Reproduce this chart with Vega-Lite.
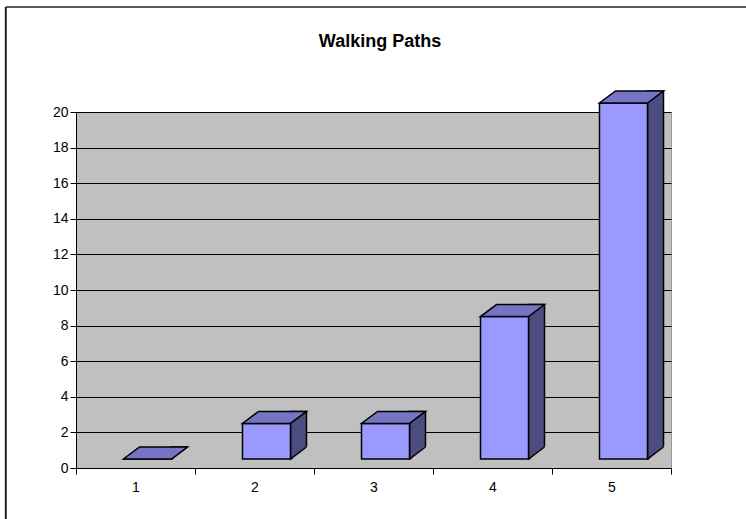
{
  "$schema": "https://vega.github.io/schema/vega-lite/v6.json",
  "width": 595,
  "height": 356,
  "autosize": {"type": "none"},
  "padding": {"left": 76, "top": 112, "right": 75, "bottom": 51},
  "background": "white",
  "title": {"text": "Walking Paths", "font": "Liberation Sans", "fontSize": 18, "fontWeight": "bold", "color": "black", "frame": "group", "anchor": "middle", "dx": 6.5, "baseline": "alphabetic", "offset": -59},
  "config": {
    "view": {"fill": "#C0C0C0", "stroke": "#9a9a9a", "strokeWidth": 1},
    "axis": {"labelFont": "Liberation Sans", "labelColor": "black", "domainColor": "black", "tickColor": "black", "domainWidth": 1, "tickWidth": 1, "title": null}
  },
  "data": {"values": [
    {"Path": "1", "Value": 0},
    {"Path": "2", "Value": 2},
    {"Path": "3", "Value": 2},
    {"Path": "4", "Value": 8},
    {"Path": "5", "Value": 20}
  ]},
  "resolve": {"scale": {"x": "independent", "y": "independent"}, "axis": {"x": "independent", "y": "independent"}},
  "layer": [
    {
      "data": {"values": [{"Frame": "top"}]},
      "mark": {"type": "rule", "stroke": "#222222", "strokeWidth": 1.5},
      "encoding": {
        "x": {"datum": -0.118, "type": "quantitative", "scale": {"domain": [0, 1]}, "axis": null},
        "x2": {"datum": 1.3},
        "y": {"datum": 25.9, "type": "quantitative", "scale": {"domain": [0, 20], "nice": false}, "axis": null}
      }
    },
    {
      "data": {"values": [{"Frame": "left"}]},
      "mark": {"type": "rule", "stroke": "#222222", "strokeWidth": 2},
      "encoding": {
        "x": {"datum": -0.118, "type": "quantitative", "scale": {"domain": [0, 1]}, "axis": null},
        "y": {"datum": 25.9, "type": "quantitative", "scale": {"domain": [0, 20], "nice": false}, "axis": null},
        "y2": {"datum": -4}
      }
    },
    {
      "encoding": {
        "x": {"field": "Path", "type": "nominal", "scale": {"paddingInner": 0, "paddingOuter": 0},
          "axis": {"labelAngle": 0, "tickBand": "extent", "labelFontSize": 14, "labelPadding": 6, "tickSize": 6, "grid": false}}
      },
      "layer": [
        {
          "mark": {"type": "bar", "width": 16, "xOffset": 44, "yOffset": -21, "y2Offset": -9, "fill": "#4C4C80", "stroke": "black", "strokeWidth": 1.5, "strokeJoin": "miter"},
          "encoding": {
            "y": {"field": "Value", "type": "quantitative", "scale": {"domain": [0, 20], "nice": false},
              "axis": {"values": [0, 2, 4, 6, 8, 10, 12, 14, 16, 18, 20], "tickCount": 20, "labelOverlap": false, "grid": true, "gridColor": "black", "gridWidth": 1, "gridOpacity": 1, "tickSize": 6, "labelPadding": 2, "labelFontSize": 14}},
            "y2": {"datum": 0}
          }
        },
        {
          "mark": {"type": "point", "shape": "M36.5,1 L53.5,1 L53.5,-12.5 L52,-12.5 Z", "size": 4, "filled": true, "fill": "#C0C0C0", "stroke": null, "opacity": 1, "yOffset": -9},
          "encoding": {"y": {"datum": 0, "type": "quantitative",
              "axis": {"values": [0, 2, 4, 6, 8, 10, 12, 14, 16, 18, 20], "tickCount": 20, "labelOverlap": false, "grid": true, "gridColor": "black", "gridWidth": 1, "gridOpacity": 1, "tickSize": 6, "labelPadding": 2, "labelFontSize": 14}}}
        },
        {
          "mark": {"type": "point", "shape": "M36,0 L52,-12", "size": 4, "filled": false, "color": "black", "stroke": "black", "strokeWidth": 1.5, "opacity": 1, "yOffset": -9},
          "encoding": {"y": {"datum": 0, "type": "quantitative",
              "axis": {"values": [0, 2, 4, 6, 8, 10, 12, 14, 16, 18, 20], "tickCount": 20, "labelOverlap": false, "grid": true, "gridColor": "black", "gridWidth": 1, "gridOpacity": 1, "tickSize": 6, "labelPadding": 2, "labelFontSize": 14}}}
        },
        {
          "mark": {"type": "bar", "width": 48, "xOffset": 12, "yOffset": -9, "y2Offset": -9, "fill": "#9999FF", "stroke": "black", "strokeWidth": 1.5, "strokeJoin": "miter"},
          "encoding": {
            "y": {"field": "Value", "type": "quantitative",
              "axis": {"values": [0, 2, 4, 6, 8, 10, 12, 14, 16, 18, 20], "tickCount": 20, "labelOverlap": false, "grid": true, "gridColor": "black", "gridWidth": 1, "gridOpacity": 1, "tickSize": 6, "labelPadding": 2, "labelFontSize": 14}},
            "y2": {"datum": 0}
          }
        },
        {
          "mark": {"type": "point", "shape": "M-12,0 L36,0 L52,-12 L4,-12 Z", "size": 4, "filled": true, "fill": "#7575C4", "stroke": "black", "strokeWidth": 1.5, "strokeJoin": "miter", "opacity": 1, "yOffset": -9},
          "encoding": {"y": {"field": "Value", "type": "quantitative",
              "axis": {"values": [0, 2, 4, 6, 8, 10, 12, 14, 16, 18, 20], "tickCount": 20, "labelOverlap": false, "grid": true, "gridColor": "black", "gridWidth": 1, "gridOpacity": 1, "tickSize": 6, "labelPadding": 2, "labelFontSize": 14}}}
        }
      ]
    }
  ]
}
